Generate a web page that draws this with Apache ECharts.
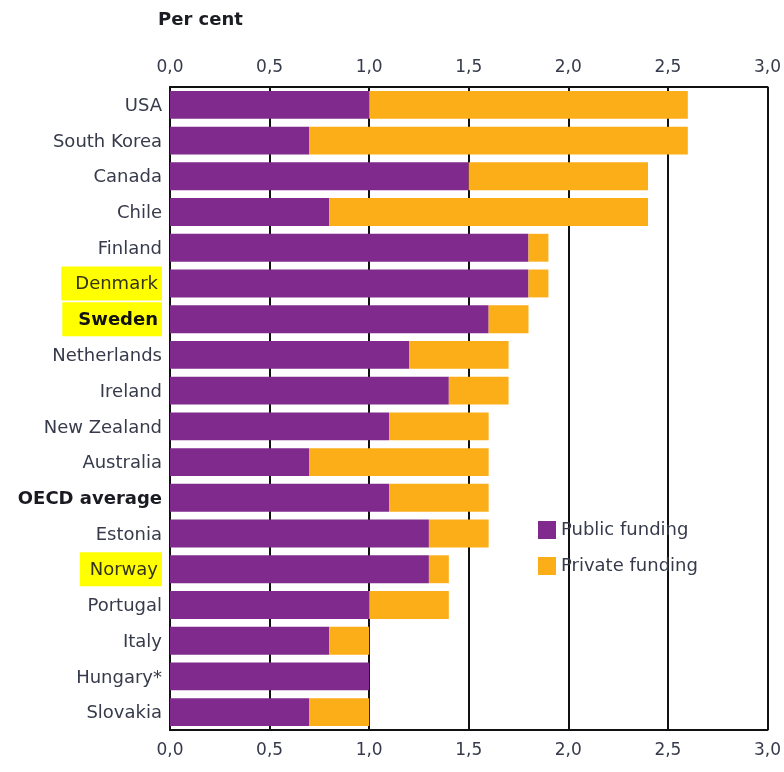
<!DOCTYPE html>
<html><head><meta charset="utf-8">
<script src="https://cdn.jsdelivr.net/npm/echarts@6/dist/echarts.min.js"></script>
<style>html,body{margin:0;padding:0;background:#fff}#c{width:784px;height:772px}</style>
</head><body><div id="c"></div>
<script>
const categories = ["USA","South Korea","Canada","Chile","Finland","Denmark","Sweden","Netherlands","Ireland","New Zealand","Australia","OECD average","Estonia","Norway","Portugal","Italy","Hungary*","Slovakia"];
const publicFunding = [1.0,0.7,1.5,0.8,1.8,1.8,1.6,1.2,1.4,1.1,0.7,1.1,1.3,1.3,1.0,0.8,1.0,0.7];
const privateFunding = [1.6,1.9,0.9,1.6,0.1,0.1,0.2,0.5,0.3,0.5,0.9,0.5,0.3,0.1,0.4,0.2,0,0.3];
const tickLabels = ["0,0","0,5","1,0","1,5","2,0","2,5","3,0"];
const highlighted = {"Denmark":"hd","Sweden":"hs","Norway":"hn"};
const boldLabels = ["OECD average"];

const chart = echarts.init(document.getElementById('c'));
const txt = '#363a4a';
const font = '"DejaVu Sans", Verdana, sans-serif';
function fmtTick(v){ return tickLabels[Math.round(v*2)]; }
function catLabel(v){
  let key = 'n';
  if (highlighted[v]) key = highlighted[v];
  else if (boldLabels.includes(v)) key = 'nb';
  return '{' + key + '|' + v + '}';
}
const base = {fontSize:18, fontFamily:font, color:txt, padding:[3,0,0,0]};
chart.setOption({
  animation:false,
  graphic:[{type:'text', left:158, top:11, style:{text:'Per cent', fontSize:18, fontWeight:'bold', fontFamily:font, fill:'#1c1c24'}}],
  legend:{
    orient:'vertical', left:533, top:516, itemWidth:18, itemHeight:18, itemGap:18, icon:'rect',
    textStyle:{fontSize:18, fontFamily:font, color:txt},
    data:['Public funding','Private funding']
  },
  grid:{left:170, right:14, top:87, bottom:42, containLabel:false},
  xAxis:[{
    type:'value', position:'top', min:0, max:3, interval:0.5,
    axisLine:{show:true, lineStyle:{color:'#111', width:2}}, axisTick:{show:false},
    splitLine:{show:true, lineStyle:{color:'#111', width:2}},
    axisLabel:{formatter:fmtTick, fontSize:17, fontFamily:font, color:txt, margin:11}
  },{
    type:'value', position:'bottom', min:0, max:3, interval:0.5,
    axisLine:{show:true, lineStyle:{color:'#111', width:2}}, axisTick:{show:false},
    splitLine:{show:false},
    axisLabel:{formatter:fmtTick, fontSize:17, fontFamily:font, color:txt, margin:12}
  }],
  yAxis:{
    type:'category', data:categories, inverse:true,
    axisLine:{show:true, lineStyle:{color:'#111', width:2}}, axisTick:{show:false},
    axisLabel:{
      formatter:catLabel, margin:8,
      rich:{
        n:Object.assign({}, base),
        nb:Object.assign({}, base, {fontWeight:'bold', color:'#1a1a22'}),
        hd:Object.assign({}, base, {backgroundColor:'#ffff00', padding:[9,4,7,14], color:'#333318'}),
        hs:Object.assign({}, base, {fontWeight:'bold', color:'#111', backgroundColor:'#ffff00', padding:[9,4,7,16]}),
        hn:Object.assign({}, base, {backgroundColor:'#ffff00', padding:[9,4,7,10], color:'#333318'})
      }
    }
  },
  series:[{
    name:'Public funding', type:'bar', stack:'t', data:publicFunding, barCategoryGap:'22%',
    itemStyle:{color:'#7f2a8c'}, xAxisIndex:0
  },{
    name:'Private funding', type:'bar', stack:'t', data:privateFunding, barCategoryGap:'22%',
    itemStyle:{color:'#fbae17'}, xAxisIndex:0
  }]
});
</script></body></html>
